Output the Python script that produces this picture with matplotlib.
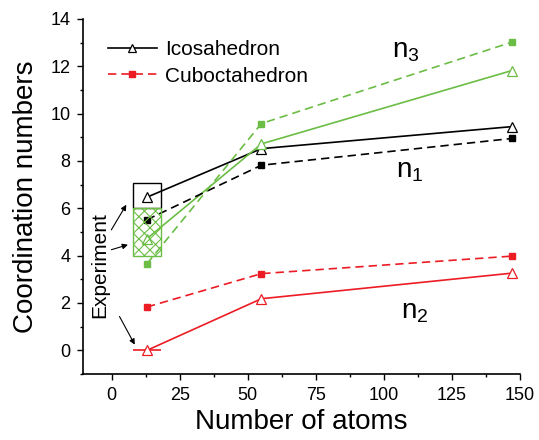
import matplotlib
matplotlib.use("Agg")
import matplotlib.pyplot as plt
from matplotlib.patches import Rectangle
from matplotlib.ticker import MultipleLocator

plt.rcParams["font.family"] = ["Liberation Sans", "DejaVu Sans"]
plt.rcParams["mathtext.fontset"] = "custom"
plt.rcParams["mathtext.rm"] = "Liberation Sans"
plt.rcParams["mathtext.it"] = "Liberation Sans"
plt.rcParams["hatch.linewidth"] = 0.8

# dados
atoms = [13, 55, 147]
ico_n1 = [6.47, 8.52, 9.45]
ico_n2 = [0.0, 2.18, 3.26]
ico_n3 = [4.72, 8.72, 11.82]
cubo_n1 = [5.52, 7.82, 8.95]
cubo_n2 = [1.83, 3.24, 3.98]
cubo_n3 = [3.66, 9.58, 13.02]

# experiencia (N = 13)
exp_x = 13
exp_halfwidth = 5
exp_n1 = (6.0, 7.05)
exp_n3 = (4.0, 6.0)
exp_n2 = 0.0

preto = "black"
vermelho = "#ec1c24"
verde = "#6cbd45"


def main():
    fig = plt.figure(figsize=(5.39, 4.40), dpi=100)
    ax = fig.add_axes([0.154, 0.150, 0.811, 0.807])

    tri = dict(marker="^", markersize=6.5, markerfacecolor="white", markeredgewidth=0.9, lw=1.2)
    sq = dict(marker="s", markersize=5, lw=1.2, dashes=(5, 3))

    # icosaedro - linhas cheias com triangulos abertos
    ax.plot(atoms, ico_n1, color=preto, markeredgecolor=preto, label="Icosahedron", **tri)
    ax.plot(atoms, ico_n3, color=verde, markeredgecolor=verde, **tri)
    ax.plot(atoms, ico_n2, color=vermelho, markeredgecolor=vermelho, **tri)

    # cuboctaedro - linhas tracejadas com quadrados cheios
    ax.plot(atoms, cubo_n1, color=preto, **sq)
    ax.plot(atoms, cubo_n3, color=verde, **sq)
    ax.plot(atoms, cubo_n2, color=vermelho, label="Cuboctahedron", **sq)

    # caixas experimentais
    x0 = exp_x - exp_halfwidth
    ax.add_patch(Rectangle((x0, exp_n1[0]), 2 * exp_halfwidth, exp_n1[1] - exp_n1[0],
                           fill=False, edgecolor=preto, lw=1.0, zorder=1))
    ax.add_patch(Rectangle((x0, exp_n3[0]), 2 * exp_halfwidth, exp_n3[1] - exp_n3[0],
                           fill=False, edgecolor=verde, hatch="xxx", lw=1.0, zorder=3))
    ax.hlines(exp_n2, x0, x0 + 2 * exp_halfwidth, color=vermelho, lw=1.2, zorder=1)

    # texto e setas
    ax.text(-4.4, 3.62, "Experiment", rotation=90, ha="center", va="center", fontsize=15)
    seta = dict(arrowstyle="-|>", color="black", lw=0.8, mutation_scale=8, shrinkA=0, shrinkB=0)
    ax.annotate("", xy=(5.4, 6.15), xytext=(-0.1, 5.09), arrowprops=seta)
    ax.annotate("", xy=(6.0, 4.46), xytext=(-0.1, 4.25), arrowprops=seta)
    ax.annotate("", xy=(8.5, 0.24), xytext=(2.9, 1.43), arrowprops=seta)

    # rotulos n1, n2, n3
    ax.text(103.0, 12.37, r"n$_\mathregular{3}$", fontsize=20, va="baseline")
    ax.text(104.3, 7.31, r"n$_\mathregular{1}$", fontsize=20, va="baseline")
    ax.text(106.1, 1.34, r"n$_\mathregular{2}$", fontsize=20, va="baseline")

    # eixos
    ax.set_xlim(-10.5, 150)
    ax.set_ylim(-1, 14)
    ax.xaxis.set_major_locator(MultipleLocator(25))
    ax.xaxis.set_minor_locator(MultipleLocator(12.5))
    ax.yaxis.set_major_locator(MultipleLocator(2))
    ax.yaxis.set_minor_locator(MultipleLocator(1))
    ax.tick_params(which="major", direction="out", length=4, width=1, labelsize=13, pad=5)
    ax.tick_params(which="minor", direction="out", length=2.5, width=1)
    for lado in ["top", "right"]:
        ax.spines[lado].set_visible(False)
    for lado in ["left", "bottom"]:
        ax.spines[lado].set_linewidth(1.2)

    ax.set_xlabel("Number of atoms", fontsize=20, labelpad=4)
    ax.set_ylabel("Coordination numbers", fontsize=20, labelpad=8)

    ax.legend(loc="upper left", bbox_to_anchor=(0.057, 0.94), frameon=False, fontsize=15,
              handlelength=2.35, handletextpad=0.4, labelspacing=0.35,
              borderpad=0, borderaxespad=0, markerscale=0.8)

    fig.savefig("out.png", dpi=100)


if __name__ == "__main__":
    main()
